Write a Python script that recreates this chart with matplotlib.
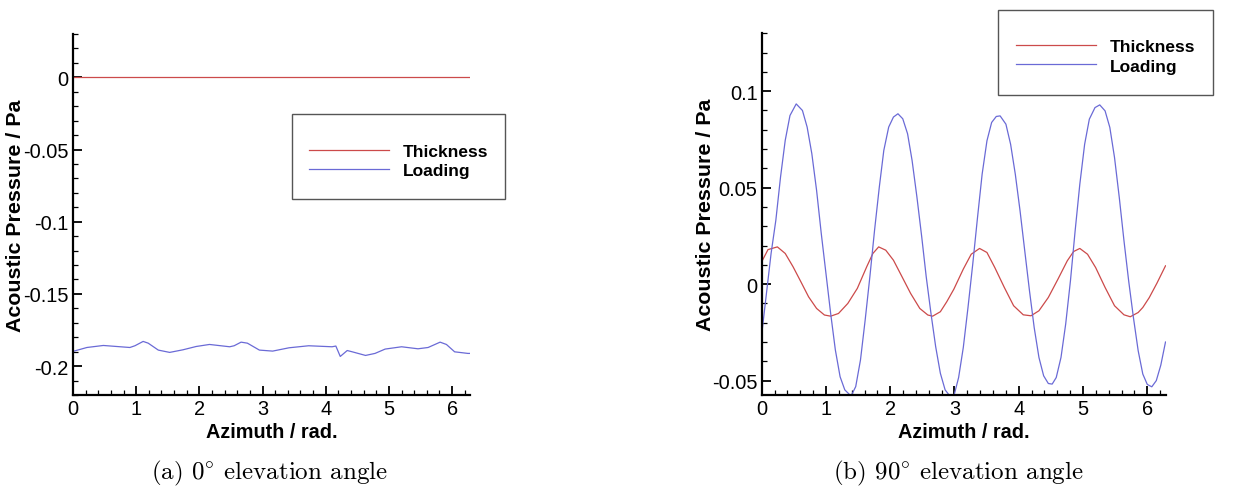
import matplotlib.pyplot as plt
from matplotlib.patches import Rectangle
from matplotlib.ticker import MultipleLocator

# left panel: 0 deg elevation
az_a = [0.0, 0.22, 0.48, 0.90, 0.98, 1.11, 1.19, 1.35, 1.53, 1.74, 1.95, 2.16, 2.48, 2.55, 2.66,
        2.76, 2.95, 3.16, 3.42, 3.73, 4.10, 4.16, 4.23, 4.34, 4.42, 4.63, 4.78, 4.94, 5.20, 5.46,
        5.62, 5.81, 5.91, 6.04, 6.25, 6.2832]
load_a = [-0.1898, -0.1871, -0.1857, -0.1871, -0.1859, -0.1829, -0.1841, -0.1889, -0.1905, -0.1887,
          -0.1864, -0.1850, -0.1866, -0.1859, -0.1834, -0.1841, -0.1889, -0.1896, -0.1873, -0.1859,
          -0.1866, -0.1861, -0.1933, -0.1892, -0.1901, -0.1926, -0.1912, -0.1882, -0.1866, -0.1880,
          -0.1871, -0.1834, -0.1850, -0.1901, -0.1912, -0.1912]
thick_a_x = [0.0, 6.2832]
thick_a = [0.0, 0.0]

# right panel: 90 deg elevation
az_b_load = [0.0, 0.146, 0.22, 0.293, 0.366, 0.44, 0.537, 0.634, 0.707, 0.78, 0.854, 0.927, 1.0,
             1.073, 1.146, 1.22, 1.293, 1.39, 1.463, 1.537, 1.61, 1.683, 1.756, 1.83, 1.90, 1.976,
             2.05, 2.12, 2.195, 2.27, 2.34, 2.415, 2.49, 2.56, 2.634, 2.707, 2.78, 2.854, 2.94,
             2.99, 3.064, 3.137, 3.21, 3.284, 3.358, 3.43, 3.505, 3.578, 3.65, 3.71, 3.80, 3.873,
             3.946, 4.02, 4.093, 4.167, 4.24, 4.314, 4.387, 4.46, 4.52, 4.583, 4.657, 4.73, 4.804,
             4.877, 4.95, 5.025, 5.098, 5.186, 5.26, 5.343, 5.417, 5.49, 5.564, 5.637, 5.71,
             5.784, 5.858, 5.93, 6.0, 6.07, 6.14, 6.21, 6.2832]
load_b = [-0.0260, 0.0159, 0.0331, 0.0555, 0.0745, 0.0874, 0.0934, 0.0900, 0.0814, 0.0676, 0.0486,
          0.0262, 0.0055, -0.0152, -0.0341, -0.0480, -0.0548, -0.0580, -0.0531, -0.0393, -0.0186,
          0.0038, 0.0279, 0.0503, 0.0693, 0.0814, 0.0866, 0.0883, 0.0857, 0.0779, 0.0641, 0.0452,
          0.0245, 0.0038, -0.0152, -0.0324, -0.0462, -0.0548, -0.0585, -0.0580, -0.0484, -0.0328,
          -0.0121, 0.0104, 0.0345, 0.0570, 0.0743, 0.0838, 0.0869, 0.0872, 0.0829, 0.0725,
          0.0570, 0.0380, 0.0173, -0.0035, -0.0225, -0.0380, -0.0475, -0.0515, -0.0518, -0.0484,
          -0.0380, -0.0207, 0.0017, 0.0276, 0.0518, 0.0725, 0.0855, 0.0915, 0.0929, 0.0898,
          0.0812, 0.0656, 0.0449, 0.0225, 0.0017, -0.0173, -0.0345, -0.0466, -0.0520, -0.0532,
          -0.0500, -0.0420, -0.0300]
az_b_thick = [0.0, 0.098, 0.244, 0.366, 0.488, 0.61, 0.73, 0.854, 0.976, 1.073, 1.195, 1.34, 1.488,
              1.634, 1.73, 1.82, 1.93, 2.05, 2.17, 2.317, 2.46, 2.585, 2.66, 2.78, 2.88, 2.99,
              3.137, 3.26, 3.39, 3.505, 3.627, 3.775, 3.92, 4.07, 4.19, 4.314, 4.46, 4.61, 4.755,
              4.853, 4.95, 5.07, 5.196, 5.343, 5.49, 5.637, 5.735, 5.858, 5.93, 6.03, 6.15, 6.2832]
thick_b = [0.0116, 0.0179, 0.0193, 0.0159, 0.0090, 0.0012, -0.0066, -0.0126, -0.0160, -0.0166,
           -0.0152, -0.0100, -0.0022, 0.0090, 0.0159, 0.0193, 0.0176, 0.0124, 0.0047, -0.0048,
           -0.0126, -0.0160, -0.0166, -0.0143, -0.0091, -0.0026, 0.0078, 0.0155, 0.0185, 0.0164,
           0.0086, -0.0017, -0.0112, -0.0159, -0.0164, -0.0138, -0.0069, 0.0026, 0.0121, 0.0169,
           0.0185, 0.0155, 0.0086, -0.0017, -0.0112, -0.0159, -0.0169, -0.0147, -0.0121, -0.0070,
           0.0005, 0.0095]

red = '#cc4a4a'
blue = '#6a6ad6'
W, H = 1244, 489

fig = plt.figure(figsize=(12.44, 4.89), dpi=100)
plt.rcParams['font.family'] = ['Liberation Sans', 'DejaVu Sans']
plt.rcParams['mathtext.fontset'] = 'cm'


def px(x0, y0, x1, y1):
    # pixel box -> figure fraction [left, bottom, width, height]
    return [x0 / W, 1 - y1 / H, (x1 - x0) / W, (y1 - y0) / H]


def yfmt(v, pos):
    s = ('%.2f' % v).rstrip('0').rstrip('.')
    return '0' if s in ('-0', '0') else s


def style(ax, ylim):
    ax.set_xlim(0, 6.2832)
    ax.set_ylim(*ylim)
    ax.xaxis.set_major_locator(MultipleLocator(1))
    ax.xaxis.set_minor_locator(MultipleLocator(0.2))
    ax.yaxis.set_major_locator(MultipleLocator(0.05))
    ax.yaxis.set_minor_locator(MultipleLocator(0.01))
    ax.yaxis.set_major_formatter(plt.FuncFormatter(yfmt))
    for s in ['top', 'right']:
        ax.spines[s].set_visible(False)
    for s in ['left', 'bottom']:
        ax.spines[s].set_linewidth(1.6)
    ax.tick_params(which='major', direction='in', length=6.5, width=1.3, labelsize=14.4, pad=3)
    ax.tick_params(which='minor', direction='in', length=3.4, width=0.9)
    ax.set_xlabel('Azimuth / rad.', fontsize=14.3, fontweight='bold')
    ax.set_ylabel('Acoustic Pressure / Pa', fontsize=15.4, fontweight='bold')


# (a)
ax1 = fig.add_axes(px(73, 35, 470, 396))
l1, = ax1.plot(thick_a_x, thick_a, color=red, lw=0.9, label='Thickness')
l2, = ax1.plot(az_a, load_a, color=blue, lw=0.9, label='Loading')
style(ax1, (-0.22, 0.03))
ax1.yaxis.set_label_coords(-0.121, 0.5)
ax1.xaxis.set_label_coords(0.5, -0.075)

# (b)
ax2 = fig.add_axes(px(761.7, 34.3, 1165.5, 395.7))
ax2.plot(az_b_thick, thick_b, color=red, lw=0.9, label='Thickness')
ax2.plot(az_b_load, load_b, color=blue, lw=0.9, label='Loading')
style(ax2, (-0.0573, 0.13))
ax2.yaxis.set_label_coords(-0.116, 0.5)
ax2.xaxis.set_label_coords(0.5, -0.075)

# legends with hand-placed boxes
for (bx0, by0, bx1, by1, lx, ly) in [(292, 115, 505, 200, 309, 162),
                                     (998, 10.7, 1213, 95.7, 1015.7, 57.2)]:
    fig.patches.append(Rectangle((bx0 / W, 1 - by1 / H), (bx1 - bx0) / W, (by1 - by0) / H,
                                 transform=fig.transFigure, fill=False,
                                 edgecolor='#555555', lw=1.0))
    fig.legend(handles=[l1, l2], loc='center left', bbox_to_anchor=(lx / W, 1 - ly / H),
               frameon=False, borderpad=0, borderaxespad=0, handlelength=4.6,
               handletextpad=0.8, labelspacing=0.25,
               prop={'size': 12.5, 'weight': 'bold'})

fig.text(269 / W, 1 - 473 / H, r'(a) $0^{\circ}$ elevation angle', ha='center', va='center',
         fontsize=18, family='cmr10')
fig.text(958 / W, 1 - 473 / H, r'(b) $90^{\circ}$ elevation angle', ha='center', va='center',
         fontsize=18, family='cmr10')

fig.savefig('out.png', dpi=100)
